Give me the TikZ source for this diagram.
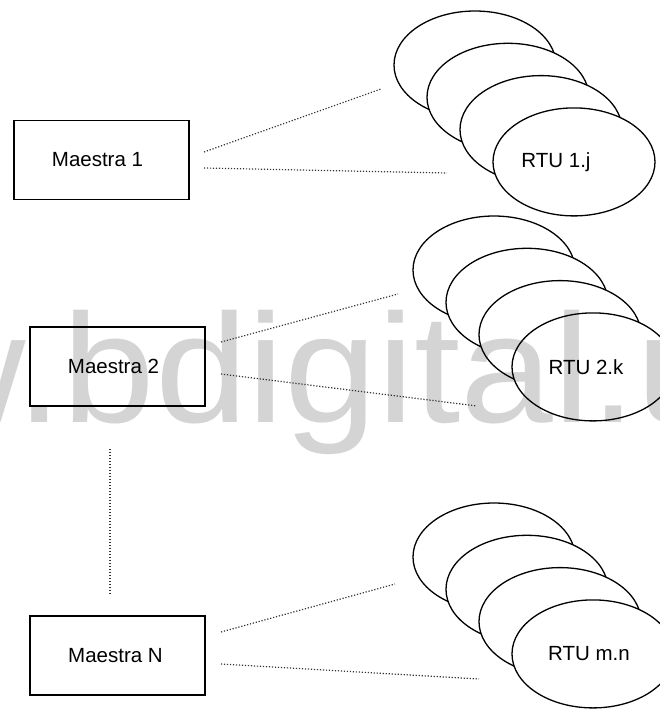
\documentclass[tikz,border=0pt]{standalone}
\usepackage{fontspec}
\setmainfont{Liberation Sans}
\usetikzlibrary{shapes.geometric}
\begin{document}
\begin{tikzpicture}[x=1pt,y=-1pt,
  box/.style={draw, line width=1.8pt, minimum width=175pt, minimum height=79pt, inner sep=0pt, font=\fontsize{20.5}{24}\selectfont},
  rtu/.style={ellipse, draw, fill=white, line width=1.3pt, minimum width=162pt, minimum height=108pt, inner sep=0pt},
  lbl/.style={font=\fontsize{20.5}{24}\selectfont, inner sep=0pt},
  link/.style={line width=1.2pt, dash pattern=on 1.2pt off 1.8pt, black!80},
  wm/.style={font=\fontsize{155}{155}\selectfont, text=black!17, inner sep=0pt, anchor=base west, xscale=1.075}
]
\useasboundingbox (0,0) rectangle (660,710);
\clip (0,0) rectangle (660,710);
\fill[white] (0,0) rectangle (660,710);

% masters
\node[box] (m1) at (101.5,160) {\hspace*{-8pt}Maestra 1};
\node[box] (m2) at (117.5,366.5) {\hspace*{-8pt}Maestra 2};
\node[box] (mn) at (117.5,655.5) {\hspace*{-4pt}Maestra N};

% RTU stacks
\foreach \g/\cx/\cy in {1/475/65, 2/494/270, 3/494/557} {
  \foreach \i in {0,...,3} {
    \node[rtu] (g\g e\i) at (\cx+33*\i, \cy+32.3*\i) {};
  }
}

% watermark
\begin{scope}[blend mode=multiply]
\node[wm] (wmk) at (-95,422) {w.bdigital.u};
\end{scope}

\node[lbl] (r1) at ([xshift=-18pt]g1e3.center) {RTU 1.j};
\node[lbl] (r2) at ([xshift=-7pt]g2e3.center) {RTU 2.k};
\node[lbl] (r3) at ([xshift=-4pt]g3e3.center) {RTU m.n};

% links
\coordinate (a1) at (204,152); \coordinate (b1) at (381,89);
\coordinate (c1) at (204,168); \coordinate (d1) at (447,173);
\coordinate (a2) at (221,342); \coordinate (b2) at (398,294);
\coordinate (c2) at (221,374); \coordinate (d2) at (477,406);
\coordinate (a3) at (221,632); \coordinate (b3) at (395,584);
\coordinate (c3) at (221,664); \coordinate (d3) at (479,679);
\coordinate (v1) at (110,449); \coordinate (v2) at (110,595);
\draw[link] (a1) -- (b1);
\draw[link] (c1) -- (d1);
\draw[link] (a2) -- (b2);
\draw[link] (c2) -- (d2);
\draw[link] (a3) -- (b3);
\draw[link] (c3) -- (d3);
\draw[link] (v1) -- (v2);
\end{tikzpicture}
\end{document}
